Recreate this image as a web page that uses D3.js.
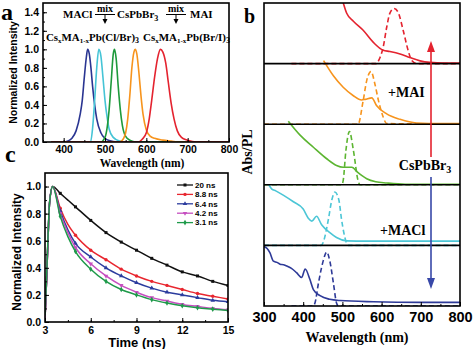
<!DOCTYPE html>
<html><head><meta charset="utf-8">
<script src="https://cdn.jsdelivr.net/npm/d3@7"></script>
<style>
body{margin:0;background:#fff;}
svg{display:block;}
.sans{font-family:Arial,"Liberation Sans",sans-serif;font-weight:bold;}
.serif{font-family:"Times New Roman","Liberation Serif",serif;font-weight:bold;}
</style></head>
<body>
<svg id="fig" width="474" height="349"></svg>
<script>
// ---------- Panel a: normalized PL spectra (wavelength nm, intensity) ----------
const aBlue   = [[370,0],[400,0],[410,0.01],[420,0.04],[430,0.12],[440,0.3],[445,0.45],[450,0.7],[455,0.92],[458,1.0],[462,0.95],[466,0.8],[470,0.6],[475,0.4],[480,0.25],[490,0.1],[500,0.04],[510,0.015],[530,0],[800,0]];
const aCyan   = [[370,0],[465,0],[470,0.15],[475,0.45],[480,0.8],[485,1.0],[490,0.93],[495,0.7],[500,0.45],[505,0.27],[510,0.14],[520,0.05],[535,0.01],[550,0],[800,0]];
const aGreen  = [[370,0],[490,0],[500,0.05],[505,0.15],[510,0.35],[515,0.65],[520,0.95],[523,1.0],[527,0.9],[532,0.6],[537,0.35],[542,0.18],[550,0.06],[560,0.02],[575,0],[800,0]];
const aOrange = [[370,0],[535,0],[545,0.04],[550,0.1],[555,0.25],[560,0.5],[565,0.8],[570,0.97],[573,1.0],[577,0.95],[582,0.75],[587,0.5],[592,0.3],[600,0.13],[610,0.06],[620,0.04],[640,0.02],[660,0.01],[680,0],[800,0]];
const aRed    = [[370,0],[580,0],[590,0.03],[600,0.1],[607,0.25],[613,0.45],[620,0.7],[627,0.9],[634,1.0],[640,0.97],[647,0.85],[653,0.65],[660,0.42],[667,0.25],[675,0.12],[685,0.05],[700,0.02],[720,0],[800,0]];
const aSeries = [aBlue, aCyan, aGreen, aOrange, aRed];
const aColors = ["#2a3592","#45c4d6","#1e9a3c","#f7941d","#e4232f"];
const aXTicks = [400,500,600,700,800];
const aYTicks = [0,0.2,0.4,0.6,0.8,1.0,1.2,1.4];

// ---------- Panel b: absorbance (solid) and PL (dashed), values relative to each strip ----------
const bLabels = ["Red","Orange","Green","Cyan","Navy"];
const bAbsRed    = [[500,1.05],[511,0.83],[528,0.70],[553,0.55],[579,0.35],[604,0.22],[621,0.20],[647,0.16],[672,0.10],[698,0.045],[723,0.02],[760,0.01],[800,0.01]];
const bPLRed     = [[370,0],[585,0],[596,0.1],[604,0.27],[613,0.6],[621,0.83],[632,0.91],[642,0.85],[655,0.55],[668,0.21],[677,0.05],[690,0],[800,0]];
const bAbsOrange = [[452,1.05],[477,0.80],[502,0.61],[528,0.47],[549,0.40],[558,0.41],[575,0.435],[587,0.31],[613,0.17],[647,0.08],[689,0.02],[750,0.01],[800,0.01]];
const bPLOrange  = [[300,0],[540,0],[553,0.39],[562,0.72],[573,0.87],[583,0.66],[592,0.39],[604,0.12],[613,0.01],[800,0]];
const bAbsGreen  = [[362,1.05],[392,0.82],[426,0.62],[460,0.43],[485,0.32],[502,0.29],[524,0.29],[540,0.20],[550,0.15],[562,0.10],[585,0.05],[613,0.03],[660,0.01],[800,0.01]];
const bPLGreen   = [[300,0],[498,0],[502,0.07],[509,0.57],[518,0.88],[528,0.57],[540,0.07],[545,0],[800,0]];
const bAbsCyan   = [[312,1.0],[320,0.93],[330,0.9],[349,0.83],[375,0.72],[400,0.60],[413,0.45],[422,0.40],[434,0.48],[447,0.34],[468,0.21],[485,0.13],[511,0.075],[562,0.07],[800,0.07]];
const bPLCyan    = [[300,0],[446,0],[451,0.05],[464,0.42],[473,0.75],[481,0.88],[491,0.75],[498,0.42],[509,0.07],[515,0],[800,0]];
const bAbsNavy   = [[300,0.98],[308,0.95],[315,0.88],[324,0.74],[333,0.72],[341,0.69],[350,0.68],[358,0.66],[370,0.62],[383,0.55],[396,0.47],[405,0.61],[417,0.44],[426,0.27],[443,0.17],[468,0.11],[494,0.09],[579,0.07],[700,0.06],[800,0.06]];
const bPLNavy    = [[370,0],[425,0],[430,0.05],[439,0.38],[450,0.72],[460,0.89],[468,0.74],[477,0.38],[485,0.05],[490,0],[800,0]];
const bAbs = [bAbsRed, bAbsOrange, bAbsGreen, bAbsCyan, bAbsNavy];
const bPL  = [bPLRed, bPLOrange, bPLGreen, bPLCyan, bPLNavy];
const bColors = ["#e4232f","#f7941d","#5cb531","#4cc6d6","#2e3a98"];
const bXTicks = [300,400,500,600,700,800];

// ---------- Panel c: TRPL decays ----------
const cTimes = [3.0,3.1,3.2,3.3,3.5,4,4.5,5,6,7,8,9,10,11,12,13,14,15];
const c20   = [0.02,0.30,0.62,0.88,1.0,0.95,0.90,0.85,0.75,0.66,0.59,0.53,0.47,0.42,0.37,0.34,0.30,0.27];
const c8_8  = [0.02,0.30,0.62,0.88,1.0,0.84,0.72,0.64,0.53,0.46,0.39,0.34,0.30,0.27,0.24,0.21,0.19,0.17];
const c6_4  = [0.02,0.30,0.62,0.88,1.0,0.82,0.68,0.58,0.48,0.40,0.34,0.29,0.25,0.22,0.20,0.18,0.16,0.15];
const c4_2  = [0.02,0.30,0.62,0.88,1.0,0.80,0.66,0.55,0.43,0.34,0.27,0.22,0.18,0.155,0.13,0.115,0.10,0.09];
const c3_1  = [0.05,0.32,0.64,0.88,1.0,0.78,0.63,0.52,0.39,0.30,0.24,0.20,0.165,0.14,0.12,0.105,0.095,0.085];
const cSeries = [c20, c8_8, c6_4, c4_2, c3_1];
const cNames = ["20 ns","8.8 ns","6.4 ns","4.2 ns","3.1 ns"];
const cColors = ["#111111","#e8262f","#2b3c9e","#c64fc0","#1f9a4a"];
const cSymbols = [d3.symbolSquare, d3.symbolCircle, d3.symbolTriangle, d3.symbolTriangle, d3.symbolDiamond];
const cXTicks = [3,6,9,12,15];
const cYTicks = [0,0.2,0.4,0.6,0.8,1.0];

const svg = d3.select("#fig");

function styleAxis(g, size){
  g.select(".domain").remove();
  g.selectAll(".tick line").attr("stroke","#000").attr("stroke-width",1);
  g.selectAll(".tick text").attr("class","sans").attr("font-size",size).attr("fill","#000");
}

// ================= Panel a =================
(function(){
  const L=43,R=229,T=3,B=142;
  const x=d3.scaleLinear([350,800],[L,R]);
  const y=d3.scaleLinear([0,1.5],[B,T]);
  const g=svg.append("g");
  g.append("clipPath").attr("id","clipA").append("rect").attr("x",L).attr("y",T).attr("width",R-L).attr("height",B-T);
  const line=d3.line().x(d=>x(d[0])).y(d=>y(d[1])).curve(d3.curveMonotoneX);
  const pl=g.append("g").attr("clip-path","url(#clipA)");
  aSeries.forEach((s,i)=>pl.append("path").datum(s).attr("d",line).attr("fill","none").attr("stroke",aColors[i]).attr("stroke-width",1.6));
  g.append("g").attr("transform",`translate(0,${B})`).call(d3.axisBottom(x).tickValues(d3.range(350,801,50)).tickSize(-2).tickFormat("")).call(a=>styleAxis(a,10));
  g.append("g").attr("transform",`translate(${L},0)`).call(d3.axisLeft(y).tickValues(d3.range(0,1.45,0.1)).tickSize(-2).tickFormat("")).call(a=>styleAxis(a,10));
  g.append("g").attr("transform",`translate(0,${B})`).call(d3.axisBottom(x).tickValues(aXTicks).tickSize(-4).tickPadding(4).tickFormat(d3.format("d"))).call(a=>styleAxis(a,10.5));
  g.append("g").attr("transform",`translate(${L},0)`).call(d3.axisLeft(y).tickValues(aYTicks).tickSize(-4).tickPadding(4).tickFormat(d3.format(".1f"))).call(a=>styleAxis(a,10.5));
  g.append("rect").attr("x",L).attr("y",T).attr("width",R-L).attr("height",B-T).attr("fill","none").attr("stroke","#000").attr("stroke-width",1.6);
  g.append("text").attr("class","sans").attr("font-size",10.5).attr("text-anchor","middle")
    .attr("transform",`translate(17,${(T+B)/2}) rotate(-90)`).text("Normalized Intensity");
  g.append("text").attr("class","serif").attr("font-size",11.5).attr("text-anchor","middle").attr("x",142).attr("y",167).text("Wavelength (nm)");
  g.append("text").attr("class","serif").attr("font-size",24).attr("x",1).attr("y",20).text("a");
  const ann=g.append("g").attr("class","serif").attr("font-size",11);
  ann.append("text").attr("x",63).attr("y",18).text("MACl");
  ann.append("text").attr("x",117).attr("y",18).html('CsPbBr<tspan font-size="8" dy="3">3</tspan>');
  ann.append("text").attr("x",190).attr("y",18).text("MAI");
  [[105,95,115],[176,166,186]].forEach(m=>{
    ann.append("text").attr("x",m[0]).attr("y",12).attr("text-anchor","middle").attr("font-size",10).text("mix");
    ann.append("line").attr("x1",m[1]).attr("x2",m[2]).attr("y1",14.5).attr("y2",14.5).attr("stroke","#000").attr("stroke-width",1);
    ann.append("line").attr("x1",m[0]).attr("x2",m[0]).attr("y1",14.5).attr("y2",21).attr("stroke","#000").attr("stroke-width",1);
    ann.append("path").attr("d",`M${m[0]-2.5},19 L${m[0]+2.5},19 L${m[0]},24 Z`).attr("fill","#000");
  });
  ann.append("text").attr("x",46).attr("y",41).attr("textLength",93).attr("lengthAdjust","spacingAndGlyphs")
    .html('Cs<tspan font-size="7" dy="2">x</tspan><tspan dy="-2">MA</tspan><tspan font-size="7" dy="2">1-x</tspan><tspan dy="-2">Pb(Cl/Br)</tspan><tspan font-size="8" dy="2">3</tspan>');
  ann.append("text").attr("x",143).attr("y",41).attr("textLength",87).attr("lengthAdjust","spacingAndGlyphs")
    .html('Cs<tspan font-size="7" dy="2">x</tspan><tspan dy="-2">MA</tspan><tspan font-size="7" dy="2">1-x</tspan><tspan dy="-2">Pb(Br/I)</tspan><tspan font-size="8" dy="2">3</tspan>');
})();

// ================= Panel b =================
(function(){
  const L=264,R=460,T=3,B=306;
  const x=d3.scaleLinear([300,800],[L,R]);
  const n=bAbs.length, h=(B-T)/n;
  const g=svg.append("g");
  g.append("clipPath").attr("id","clipB").append("rect").attr("x",L).attr("y",T).attr("width",R-L).attr("height",B-T);
  const area=g.append("g").attr("clip-path","url(#clipB)");
  for(let i=0;i<n;i++){
    const top=T+i*h, bot=T+(i+1)*h;
    const y=d3.scaleLinear([0,1],[bot,top]);
    const line=d3.line().x(d=>x(d[0])).y(d=>y(d[1])).curve(d3.curveMonotoneX);
    if(i<n-1) g.append("line").attr("x1",L).attr("x2",R).attr("y1",bot).attr("y2",bot).attr("stroke","#000").attr("stroke-width",1.6);
    area.append("path").datum(bPL[i]).attr("d",line).attr("fill","none").attr("stroke",bColors[i]).attr("stroke-width",1.6).attr("stroke-dasharray","5,3");
    area.append("path").datum(bAbs[i]).attr("d",line).attr("fill","none").attr("stroke",bColors[i]).attr("stroke-width",1.6);
  }
  g.append("g").attr("transform",`translate(0,${B})`).call(d3.axisBottom(x).tickValues(d3.range(300,801,50)).tickSize(-2).tickFormat("")).call(a=>styleAxis(a,10));
  g.append("g").attr("transform",`translate(0,${B})`).call(d3.axisBottom(x).tickValues(bXTicks).tickSize(-4).tickPadding(6).tickFormat(d3.format("d"))).call(a=>styleAxis(a,14.5));
  g.append("rect").attr("x",L).attr("y",T).attr("width",R-L).attr("height",B-T).attr("fill","none").attr("stroke","#000").attr("stroke-width",1.6);
  g.append("text").attr("class","serif").attr("font-size",14).attr("text-anchor","middle")
    .attr("transform",`translate(252,152) rotate(-90)`).text("Abs/PL");
  g.append("text").attr("class","serif").attr("font-size",14).attr("text-anchor","middle").attr("x",357).attr("y",342).text("Wavelength (nm)");
  g.append("text").attr("class","serif").attr("font-size",20).attr("x",244).attr("y",23).text("b");
  const ax=431;
  g.append("line").attr("x1",ax).attr("x2",ax).attr("y1",157).attr("y2",50).attr("stroke","#e4232f").attr("stroke-width",1.6);
  g.append("path").attr("d",`M${ax-4},52 L${ax+4},52 L${ax},41 Z`).attr("fill","#e4232f");
  g.append("line").attr("x1",ax).attr("x2",ax).attr("y1",177).attr("y2",280).attr("stroke","#3848a8").attr("stroke-width",1.6);
  g.append("path").attr("d",`M${ax-4},278 L${ax+4},278 L${ax},289 Z`).attr("fill","#3848a8");
  g.append("text").attr("class","serif").attr("font-size",14).attr("text-anchor","middle").attr("x",425).attr("y",170)
    .html('CsPbBr<tspan font-size="10" dy="3">3</tspan>');
  g.append("text").attr("class","serif").attr("font-size",14).attr("x",388).attr("y",97).text("+MAI");
  g.append("text").attr("class","serif").attr("font-size",14).attr("x",380).attr("y",235).text("+MACl");
})();

// ================= Panel c =================
(function(){
  const L=45,R=228,T=173,B=322;
  const x=d3.scaleLinear([3,15],[L,R]);
  const y=d3.scaleLinear([0,1.1],[B,T]);
  const g=svg.append("g");
  g.append("clipPath").attr("id","clipC").append("rect").attr("x",L).attr("y",T).attr("width",R-L).attr("height",B-T);
  const pl=g.append("g").attr("clip-path","url(#clipC)");
  const line=d3.line().x((d,i)=>x(cTimes[i])).y(d=>y(d)).curve(d3.curveMonotoneX);
  cSeries.forEach((s,i)=>{
    pl.append("path").datum(s).attr("d",line).attr("fill","none").attr("stroke",cColors[i]).attr("stroke-width",1.5);
    const sym=d3.symbol().type(cSymbols[i]).size(9);
    pl.selectAll(null).data(s.map((v,j)=>[cTimes[j],v]).filter(d=>d[0]>=4 && Number.isInteger(d[0])))
      .enter().append("path").attr("d",sym)
      .attr("transform",d=>`translate(${x(d[0])},${y(d[1])})${i===3?" rotate(180)":""}`)
      .attr("fill",cColors[i]);
  });
  g.append("g").attr("transform",`translate(0,${B})`).call(d3.axisBottom(x).tickValues(d3.range(3,15.1,1.5)).tickSize(-2).tickFormat("")).call(a=>styleAxis(a,10));
  g.append("g").attr("transform",`translate(${L},0)`).call(d3.axisLeft(y).tickValues(d3.range(0,1.05,0.1)).tickSize(-2).tickFormat("")).call(a=>styleAxis(a,10));
  g.append("g").attr("transform",`translate(0,${B})`).call(d3.axisBottom(x).tickValues(cXTicks).tickSize(-4).tickPadding(5).tickFormat(d3.format("d"))).call(a=>styleAxis(a,10.5));
  g.append("g").attr("transform",`translate(${L},0)`).call(d3.axisLeft(y).tickValues(cYTicks).tickSize(-4).tickPadding(4).tickFormat(d3.format(".1f"))).call(a=>styleAxis(a,10.5));
  g.append("rect").attr("x",L).attr("y",T).attr("width",R-L).attr("height",B-T).attr("fill","none").attr("stroke","#000").attr("stroke-width",1.6);
  g.append("text").attr("class","sans").attr("font-size",12).attr("text-anchor","middle")
    .attr("transform",`translate(21,252) rotate(-90)`).text("Normalized Intensity");
  g.append("text").attr("class","sans").attr("font-size",13).attr("text-anchor","middle").attr("x",137).attr("y",347).text("Time (ns)");
  g.append("text").attr("class","serif").attr("font-size",24).attr("x",5).attr("y",162).text("c");
  const lg=g.append("g");
  cNames.forEach((nm,i)=>{
    const yy=185+i*9.4;
    lg.append("line").attr("x1",177).attr("x2",193).attr("y1",yy).attr("y2",yy).attr("stroke",cColors[i]).attr("stroke-width",1.3);
    lg.append("path").attr("d",d3.symbol().type(cSymbols[i]).size(9)).attr("transform",`translate(185,${yy})${i===3?" rotate(180)":""}`).attr("fill",cColors[i]);
    lg.append("text").attr("class","sans").attr("font-size",8).attr("x",195).attr("y",yy).attr("dy","0.35em").text(nm);
  });
})();
</script>
</body></html>
